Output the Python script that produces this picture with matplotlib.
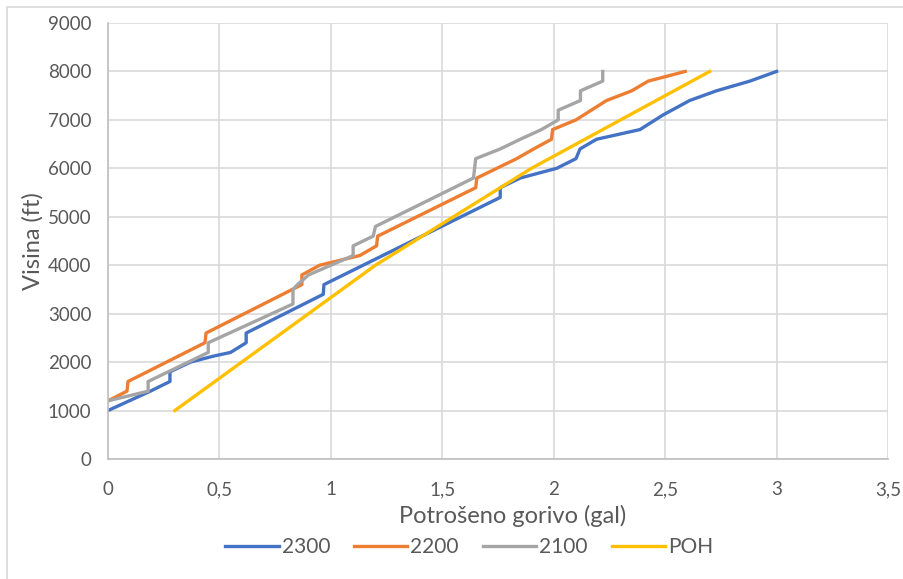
import matplotlib
matplotlib.use("Agg")
import matplotlib.pyplot as plt
from matplotlib.patches import Rectangle
from matplotlib.ticker import FuncFormatter

plt.rcParams['font.family'] = ['Lato', 'DejaVu Sans']

# fuel used (gal) vs altitude (ft)
x_2300 = [0, 0.19, 0.278, 0.278, 0.37, 0.47, 0.55, 0.62, 0.62, 0.966, 0.969, 1.76, 1.76, 1.85,
          2.013, 2.10, 2.118, 2.192, 2.387, 2.49, 2.61, 2.73, 2.88, 3.0]
y_2300 = [1000, 1400, 1600, 1800, 2000, 2120, 2200, 2400, 2600, 3400, 3600, 5400, 5600, 5800,
          6000, 6200, 6400, 6600, 6800, 7100, 7400, 7600, 7800, 8000]

x_2200 = [0, 0.085, 0.09, 0.435, 0.44, 0.87, 0.87, 0.95, 1.13, 1.205, 1.21, 1.65, 1.655, 1.834,
          1.91, 1.99, 1.995, 2.10, 2.237, 2.35, 2.424, 2.59]
y_2200 = [1200, 1400, 1600, 2400, 2600, 3600, 3800, 4000, 4200, 4400, 4600, 5600, 5800, 6200,
          6400, 6600, 6800, 7000, 7400, 7600, 7800, 8000]

x_2100 = [0, 0.18, 0.18, 0.45, 0.45, 0.83, 0.83, 0.85, 0.9, 1.0, 1.1, 1.1, 1.19, 1.2, 1.64,
          1.65, 1.76, 1.85, 1.945, 2.02, 2.02, 2.12, 2.12, 2.22, 2.22]
y_2100 = [1200, 1400, 1600, 2200, 2400, 3200, 3500, 3600, 3800, 4000, 4200, 4400, 4600, 4800, 5800,
          6200, 6400, 6600, 6800, 7000, 7200, 7400, 7600, 7800, 8000]

x_poh = [0.3, 0.6, 0.9, 1.2, 1.55, 1.9, 2.3, 2.7]
y_poh = [1000, 2000, 3000, 4000, 5000, 6000, 7000, 8000]

fig = plt.figure(figsize=(9.04, 5.79), dpi=100)
ax = fig.add_axes([108/904, 1-459/579, 780/904, 436/579])

# chart frame (cropped at right/bottom in the original)
fig.patches.append(Rectangle((7/904, -0.1), 1.2, 1 - 7/579 + 0.1, transform=fig.transFigure,
                             fill=False, edgecolor='#d9d9d9', linewidth=1.2))

lw = 2.4
ax.plot(x_2300, y_2300, color='#4472C4', lw=lw, label='2300')
ax.plot(x_2200, y_2200, color='#ED7D31', lw=lw, label='2200')
ax.plot(x_2100, y_2100, color='#A5A5A5', lw=lw, label='2100')
ax.plot(x_poh, y_poh, color='#FFC000', lw=lw, label='POH')

ax.set_xlim(0, 3.5)
ax.set_ylim(0, 9000)
ax.set_xticks([0, 0.5, 1, 1.5, 2, 2.5, 3, 3.5])
ax.set_yticks(range(0, 9001, 1000))
ax.xaxis.set_major_formatter(FuncFormatter(lambda v, p: ('%g' % v).replace('.', ',')))
ax.grid(True, color='#d9d9d9', linewidth=1.2)
ax.set_axisbelow(True)
for s in ['top', 'right']:
    ax.spines[s].set_visible(False)
for s in ['left', 'bottom']:
    ax.spines[s].set_color('#bfbfbf')
    ax.spines[s].set_linewidth(1.2)
ax.tick_params(length=0, labelsize=13.5, colors='#595959')
ax.tick_params(axis='x', pad=16)
ax.tick_params(axis='y', pad=12)

ax.set_xlabel('Potrošeno gorivo (gal)', fontsize=17, color='#595959')
ax.set_ylabel('Visina (ft)', fontsize=17, color='#595959')
ax.xaxis.set_label_coords(0.519, -0.105)
ax.yaxis.set_label_coords(-0.083, 0.5)

ax.legend(loc='center', bbox_to_anchor=(0.463, -0.202), ncol=4, frameon=False,
          fontsize=15, handlelength=2.55, handletextpad=0.15, columnspacing=1.15,
          labelcolor='#595959')

fig.savefig('out.png', dpi=100)
